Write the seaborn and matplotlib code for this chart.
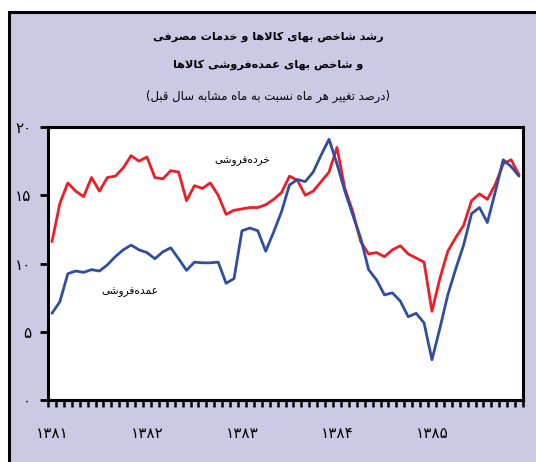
import numpy as np
import pandas as pd
import seaborn as sns
import matplotlib
matplotlib.use("Agg")
import matplotlib.pyplot as plt
from matplotlib.patches import Rectangle


# monthly growth, % vs same month of previous year
retail = [11.6, 14.4, 15.9, 15.3, 14.9, 16.3, 15.3, 16.3, 16.4, 17.0, 17.9, 17.5,
          17.8, 16.3, 16.2, 16.8, 16.7, 14.6, 15.7, 15.5, 15.9, 15.0, 13.6, 13.9,
          14.0, 14.1, 14.1, 14.3, 14.7, 15.2, 16.4, 16.1, 15.0, 15.3, 16.0, 16.7,
          18.5, 15.5, 13.8, 11.6, 10.7, 10.8, 10.5, 11.0, 11.3, 10.7, 10.4, 10.1,
          6.5, 8.9, 10.9, 11.9, 12.8, 14.6, 15.1, 14.7, 15.8, 17.3, 17.6, 16.5]
wholesale = [6.35, 7.2, 9.25, 9.45, 9.35, 9.55, 9.45, 9.9, 10.5, 11.0, 11.35, 11.0,
             10.8, 10.35, 10.85, 11.15, 10.35, 9.5, 10.1, 10.05, 10.05, 10.1, 8.55, 8.9,
             12.4, 12.6, 12.4, 10.9, 12.3, 13.8, 15.75, 16.15, 16.0, 16.7, 17.95, 19.1,
             17.3, 15.3, 13.55, 11.85, 9.55, 8.8, 7.7, 7.85, 7.25, 6.1, 6.35, 5.65,
             2.95, 5.25, 7.7, 9.6, 11.35, 13.65, 14.1, 13.0, 15.25, 17.6, 17.1, 16.4]
years = ["۱۳۸۱", "۱۳۸۲", "۱۳۸۳", "۱۳۸۴", "۱۳۸۵"]
yticks = [0, 5, 10, 15, 20]
ylabels = ["۰", "۵", "۱۰", "۱۵", "۲۰"]

title1 = "رشد شاخص بهای کالاها و خدمات مصرفی"
title2 = "و شاخص بهای عمده‌فروشی کالاها"
title3 = "(درصد تغییر هر ماه نسبت به ماه مشابه سال قبل)"
lab_retail = "خرده‌فروشی"
lab_whole = "عمده‌فروشی"


# matplotlib has no arabic shaping, so do it by hand with presentation forms
# (isolated, final, initial, medial)
FORMS = {
    'ا': ('\uFE8D', '\uFE8E', None, None),
    'ب': ('\uFE8F', '\uFE90', '\uFE91', '\uFE92'),
    'ت': ('\uFE95', '\uFE96', '\uFE97', '\uFE98'),
    'خ': ('\uFEA5', '\uFEA6', '\uFEA7', '\uFEA8'),
    'د': ('\uFEA9', '\uFEAA', None, None),
    'ر': ('\uFEAD', '\uFEAE', None, None),
    'س': ('\uFEB1', '\uFEB2', '\uFEB3', '\uFEB4'),
    'ش': ('\uFEB5', '\uFEB6', '\uFEB7', '\uFEB8'),
    'ص': ('\uFEB9', '\uFEBA', '\uFEBB', '\uFEBC'),
    'ع': ('\uFEC9', '\uFECA', '\uFECB', '\uFECC'),
    'غ': ('\uFECD', '\uFECE', '\uFECF', '\uFED0'),
    'ف': ('\uFED1', '\uFED2', '\uFED3', '\uFED4'),
    'ق': ('\uFED5', '\uFED6', '\uFED7', '\uFED8'),
    'ک': ('\uFED9', '\uFEDA', '\uFEDB', '\uFEDC'),
    'ل': ('\uFEDD', '\uFEDE', '\uFEDF', '\uFEE0'),
    'م': ('\uFEE1', '\uFEE2', '\uFEE3', '\uFEE4'),
    'ن': ('\uFEE5', '\uFEE6', '\uFEE7', '\uFEE8'),
    'ه': ('\uFEE9', '\uFEEA', '\uFEEB', '\uFEEC'),
    'و': ('\uFEED', '\uFEEE', None, None),
    'ی': ('\uFEEF', '\uFEF0', '\uFEF3', '\uFEF4'),
}


def dual(c):
    return c in FORMS and FORMS[c][2] is not None


def shape(txt):
    out = []
    i = 0
    while i < len(txt):
        c = txt[i]
        if c not in FORMS:
            if c != '\u200c':
                out.append(c)
            i += 1
            continue
        prev = txt[i - 1] if i > 0 else ''
        nxt = txt[i + 1] if i + 1 < len(txt) else ''
        jp = dual(prev)
        if c == 'ل' and nxt == 'ا':
            out.append('\uFEFC' if jp else '\uFEFB')
            i += 2
            continue
        jn = dual(c) and nxt in FORMS
        f = FORMS[c][{(False, False): 0, (True, False): 1,
                      (False, True): 2, (True, True): 3}[(jp, jn)]]
        out.append(f)
        i += 1
    s = ''.join(out)[::-1]
    return s.replace('(', '\0').replace(')', '(').replace('\0', ')')


sns.set_theme(style="white")
plt.rcParams['font.family'] = ['DejaVu Sans']
plt.rcParams['text.color'] = 'black'
plt.rcParams['xtick.color'] = 'black'
plt.rcParams['ytick.color'] = 'black'

df = pd.DataFrame({
    'month': list(range(len(retail))) * 2,
    'value': retail + wholesale,
    'series': ['retail'] * len(retail) + ['wholesale'] * len(wholesale),
})

fig = plt.figure(figsize=(5.36, 4.62), dpi=100, facecolor='white')
bg = Rectangle((9 / 536, -0.05), 1.1, (462 - 12) / 462 + 0.05,
               transform=fig.transFigure, facecolor='#CBCAE4',
               edgecolor='black', linewidth=2.2, zorder=-5)
fig.add_artist(bg)

ax = fig.add_axes([48 / 536, 62 / 462, 475 / 536, 273 / 462])
sns.lineplot(data=df, x='month', y='value', hue='series',
             palette={'retail': '#EE1D25', 'wholesale': '#2E4EA0'},
             linewidth=2.0, legend=False, ax=ax)
ax.set_facecolor('white')
ax.set_xlim(-0.5, 59.5)
ax.set_ylim(0, 20)
ax.set_xlabel('')
ax.set_ylabel('')
for s in ax.spines.values():
    s.set_color('black')
    s.set_linewidth(2.2)

ax.set_yticks(yticks)
ax.set_yticklabels(ylabels, fontsize=11)
ax.tick_params(axis='y', direction='out', length=6, width=2, color='black', pad=6, left=True)

ax.set_xticks([0, 12, 24, 36, 48])
ax.set_xticklabels(years, fontsize=11)
ax.set_xticks(np.arange(-0.5, 60, 1), minor=True)
ax.tick_params(axis='x', which='major', length=0, pad=19)
ax.tick_params(axis='x', which='minor', direction='out', length=5, width=1.8,
               color='black', bottom=True)

ax.text(24.0, 17.5, shape(lab_retail), fontsize=7.6, ha='center', va='center')
ax.text(9.8, 7.9, shape(lab_whole), fontsize=7.6, ha='center', va='center')

fig.text(0.5, 1 - 37 / 462, shape(title1), fontsize=8.1, fontweight='bold',
         ha='center', va='center')
fig.text(0.5, 1 - 65 / 462, shape(title2), fontsize=8.1, fontweight='bold',
         ha='center', va='center')
fig.text(0.5, 1 - 96 / 462, shape(title3), fontsize=8.4,
         ha='center', va='center')

fig.savefig('out.png', dpi=100, facecolor='white')
